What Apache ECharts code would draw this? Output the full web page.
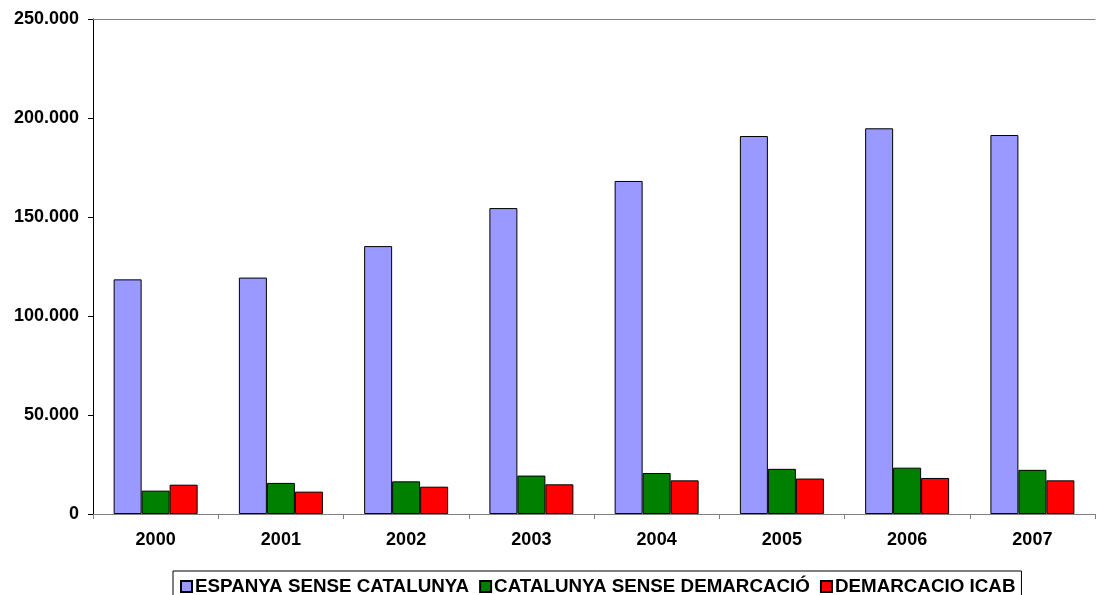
<!DOCTYPE html>
<html>
<head>
<meta charset="utf-8">
<script src="https://cdn.jsdelivr.net/npm/echarts@6/dist/echarts.min.js"></script>
<style>html,body{margin:0;padding:0;background:#fff;}#c{width:1099px;height:595px;}</style>
</head>
<body>
<div id="c"></div>
<script>
var categories = ['2000','2001','2002','2003','2004','2005','2006','2007'];
var seriesNames = ['ESPANYA SENSE CATALUNYA','CATALUNYA SENSE DEMARCACIÓ','DEMARCACIO ICAB'];
var espanya = [118500, 119400, 135300, 154500, 168200, 190900, 194800, 191400];
var catalunya = [11800, 15700, 16500, 19400, 20700, 22800, 23400, 22300];
var icab = [14800, 11300, 13800, 15000, 17000, 17900, 18200, 17000];
var colors = ['#9999FF', '#008000', '#FF0000'];

var font = 'Arial, "Liberation Sans", sans-serif';
function fmt(v){ return String(v).replace(/\B(?=(\d{3})+(?!\d))/g, '.'); }

var chart = echarts.init(document.getElementById('c'));
function mk(name, data, color){
  return {
    name: name, type: 'bar', data: data, barWidth: 28, barGap: '0%',
    itemStyle: { color: color, borderColor: '#000', borderWidth: 1 },
    emphasis: { disabled: true }
  };
}
chart.setOption({
  animation: false,
  backgroundColor: '#fff',
  grid: { left: 93, right: 4, top: 19, bottom: 81, containLabel: false },
  legend: {
    left: 173, top: 571,
    data: seriesNames,
    icon: 'rect', itemWidth: 11, itemHeight: 11, itemGap: 10,
    borderColor: '#000', borderWidth: 1,
    padding: [6, 6, 6, 7],
    textStyle: { fontFamily: font, fontWeight: 'bold', fontSize: 18.8, color: '#000', padding: [0, 0, 0, -2] }
  },
  xAxis: [{
    type: 'category', data: categories,
    axisLine: { lineStyle: { color: '#808080', width: 1 } },
    axisTick: { show: true, length: 5, lineStyle: { color: '#808080' } },
    axisLabel: { fontFamily: font, fontWeight: 'bold', fontSize: 18, color: '#000', margin: 17 },
    splitLine: { show: false }
  }, {
    type: 'category', data: categories, position: 'top',
    axisLine: { show: true, lineStyle: { color: '#808080', width: 1 } },
    axisTick: { show: false }, axisLabel: { show: false }, splitLine: { show: false }
  }],
  yAxis: {
    type: 'value', min: 0, max: 250000, interval: 50000,
    axisLine: { show: true, lineStyle: { color: '#000', width: 1 } },
    axisTick: { show: true, length: 5, lineStyle: { color: '#000' } },
    axisLabel: { fontFamily: font, fontWeight: 'bold', fontSize: 18, color: '#000', margin: 14, formatter: fmt },
    splitLine: { show: false }
  },
  series: [mk(seriesNames[0], espanya, colors[0]), mk(seriesNames[1], catalunya, colors[1]), mk(seriesNames[2], icab, colors[2])]
});
</script>
</body>
</html>
